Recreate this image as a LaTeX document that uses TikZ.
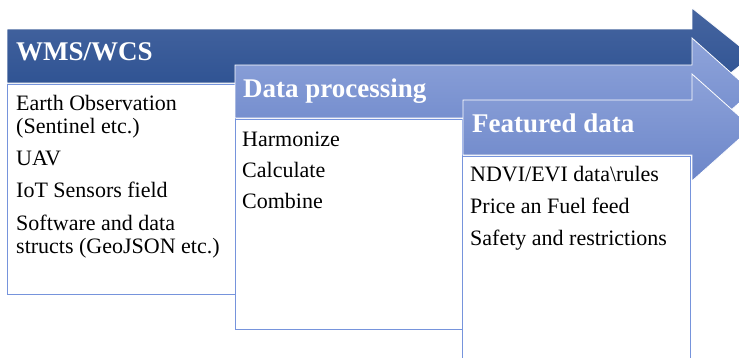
\documentclass[tikz,border=0pt]{standalone}
\usepackage{fontspec}
\setmainfont{Liberation Serif}
\definecolor{darkTop}{RGB}{70,101,160}
\definecolor{darkBot}{RGB}{42,79,144}
\definecolor{midTop}{RGB}{143,164,218}
\definecolor{midBot}{RGB}{110,136,203}
\definecolor{featTop}{RGB}{141,162,217}
\definecolor{featBot}{RGB}{108,134,201}
\definecolor{boxLine}{RGB}{118,148,220}
\tikzset{
  arrowshape/.style={draw=white, line width=0.8pt, shading=axis, shading angle=0},
  box/.style={draw=boxLine, line width=1pt, fill=white, inner sep=0pt, outer sep=0pt, anchor=north west},
  ttl/.style={font=\fontsize{27}{30}\selectfont\bfseries, text=white, anchor=base west, inner sep=0pt},
  itm/.style={font=\fontsize{22}{23}\selectfont, text=black, anchor=base west, inner sep=0pt}
}
\begin{document}
\begin{tikzpicture}[x=1pt, y=-1pt]
\useasboundingbox (0,0) rectangle (739,357);
\clip (0,0) rectangle (739,357);
% dark arrow
\path[arrowshape, top color=darkTop, bottom color=darkBot]
  (7,29) -- (692,29) -- (692,8) -- (752,56) -- (692,104) -- (692,83) -- (7,83) -- cycle;
\node[ttl] (t1) at (16,60) {WMS/WCS};
\node[box, minimum width=228pt, minimum height=210pt] (b1) at (7,84) {};
\node[itm] (e1) at (16,110) {Earth Observation};
\node[itm] (e2) at (16,133) {(Sentinel etc.)};
\node[itm] (e3) at (16,165) {UAV};
\node[itm] (e4) at (16,197) {IoT Sensors field};
\node[itm] (e5) at (16,230) {Software and data};
\node[itm] (e6) at (16,253) {structs (GeoJSON etc.)};
% medium arrow
\path[arrowshape, top color=midTop, bottom color=midBot]
  (235,65) -- (692,65) -- (692,38) -- (752,91.5) -- (692,145) -- (692,118) -- (235,118) -- cycle;
\node[ttl] (t2) at (243,97) {Data processing};
\node[box, minimum width=227pt, minimum height=210pt] (b2) at (235,119) {};
\node[itm] (d1) at (242,146) {Harmonize};
\node[itm] (d2) at (242,177) {Calculate};
\node[itm] (d3) at (242,208) {Combine};
% featured arrow
\path[arrowshape, top color=featTop, bottom color=featBot]
  (463,100) -- (692,100) -- (692,74) -- (752,127.5) -- (692,181) -- (692,155) -- (463,155) -- cycle;
\node[ttl] (t3) at (472,132) {Featured data};
\node[box, minimum width=228pt, minimum height=215pt] (b3) at (462,156) {};
\node[itm] (f1) at (470,181) {NDVI/EVI data\textbackslash rules};
\node[itm] (f2) at (470,213) {Price an Fuel feed};
\node[itm] (f3) at (470,245) {Safety and restrictions};
\end{tikzpicture}
\end{document}
